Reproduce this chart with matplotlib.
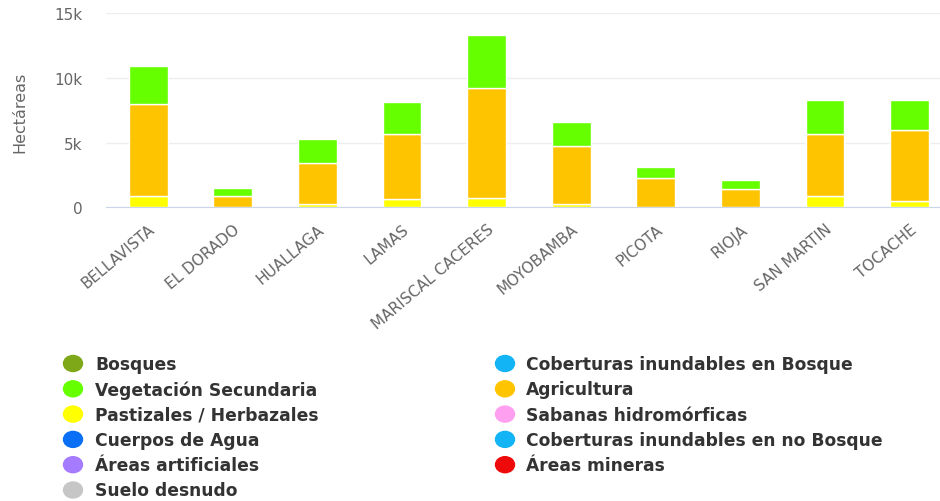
import matplotlib.pyplot as plt
from matplotlib.patches import Ellipse
from matplotlib.ticker import FuncFormatter
import numpy as np

provincias = ['BELLAVISTA', 'EL DORADO', 'HUALLAGA', 'LAMAS', 'MARISCAL CACERES',
              'MOYOBAMBA', 'PICOTA', 'RIOJA', 'SAN MARTIN', 'TOCACHE']
pastizales = [900, 0, 250, 650, 750, 250, 0, 0, 850, 500]
agricultura = [7100, 900, 3150, 5000, 8500, 4500, 2250, 1420, 4800, 5450]
vegetacion = [2950, 580, 1880, 2500, 4050, 1850, 880, 690, 2620, 2320]

leyenda = ['Bosques', 'Vegetación Secundaria', 'Pastizales / Herbazales',
           'Cuerpos de Agua', 'Áreas artificiales', 'Suelo desnudo',
           'Coberturas inundables en Bosque', 'Agricultura', 'Sabanas hidromórficas',
           'Coberturas inundables en no Bosque', 'Áreas mineras']
colores = ['#7fa818', '#66ff00', '#ffff00', '#0a6ff5', '#a57bff', '#c6c6c6',
           '#12b4f5', '#ffc400', '#ff9ff0', '#12b4f5', '#ee0a0a']

W, H = 940, 502
fig = plt.figure(figsize=(W / 100, H / 100), dpi=100)
ax = fig.add_axes([106 / W, 1 - 208.3 / H, 1 - 106 / W, (208.3 - 14.3) / H])

x = np.arange(len(provincias))
ancho = 0.46
borde = dict(edgecolor='white', linewidth=1)
ax.bar(x, pastizales, ancho, color='#ffff00', **borde)
ax.bar(x, agricultura, ancho, bottom=pastizales, color='#ffc400', **borde)
base = np.array(pastizales) + np.array(agricultura)
ax.bar(x, vegetacion, ancho, bottom=base, color='#66ff00', **borde)

ax.set_ylim(0, 15000)
ax.set_xlim(-0.5, 9.36)
ax.set_yticks([0, 5000, 10000, 15000])
ax.yaxis.set_major_formatter(FuncFormatter(lambda v, p: '0' if v == 0 else f'{int(v / 1000)}k'))
ax.grid(axis='y', color='#eeeeee', linewidth=1)
ax.set_axisbelow(True)
for s in ['top', 'right', 'left']:
    ax.spines[s].set_visible(False)
ax.spines['bottom'].set_color('#ccd6eb')
ax.tick_params(axis='y', length=0, pad=17, labelsize=11, labelcolor='#666666')
ax.tick_params(axis='x', length=0, pad=10, labelsize=11, labelcolor='#666666')
ax.set_xticks(x)
ax.set_xticklabels(provincias, rotation=40, ha='right', rotation_mode='anchor')
ax.set_ylabel('Hectáreas', fontsize=11.5, color='#666666')
ax.yaxis.set_label_coords((27 - 106) / 834, 0.496)

# leyenda en dos columnas, seis filas
for i, (nombre, c) in enumerate(zip(leyenda, colores)):
    col, fila = divmod(i, 6)
    xm = [73, 505][col]
    xt = [95, 526][col]
    y = 364.5 + fila * 25.3
    fig.add_artist(Ellipse((xm / W, 1 - y / H), 19 / W, 16 / H,
                           transform=fig.transFigure, color=c))
    fig.text(xt / W, 1 - (y + 0.5) / H, nombre, fontsize=12.3, fontweight='bold',
             color='#333333', va='center', ha='left')

fig.savefig('out.png', dpi=100)
